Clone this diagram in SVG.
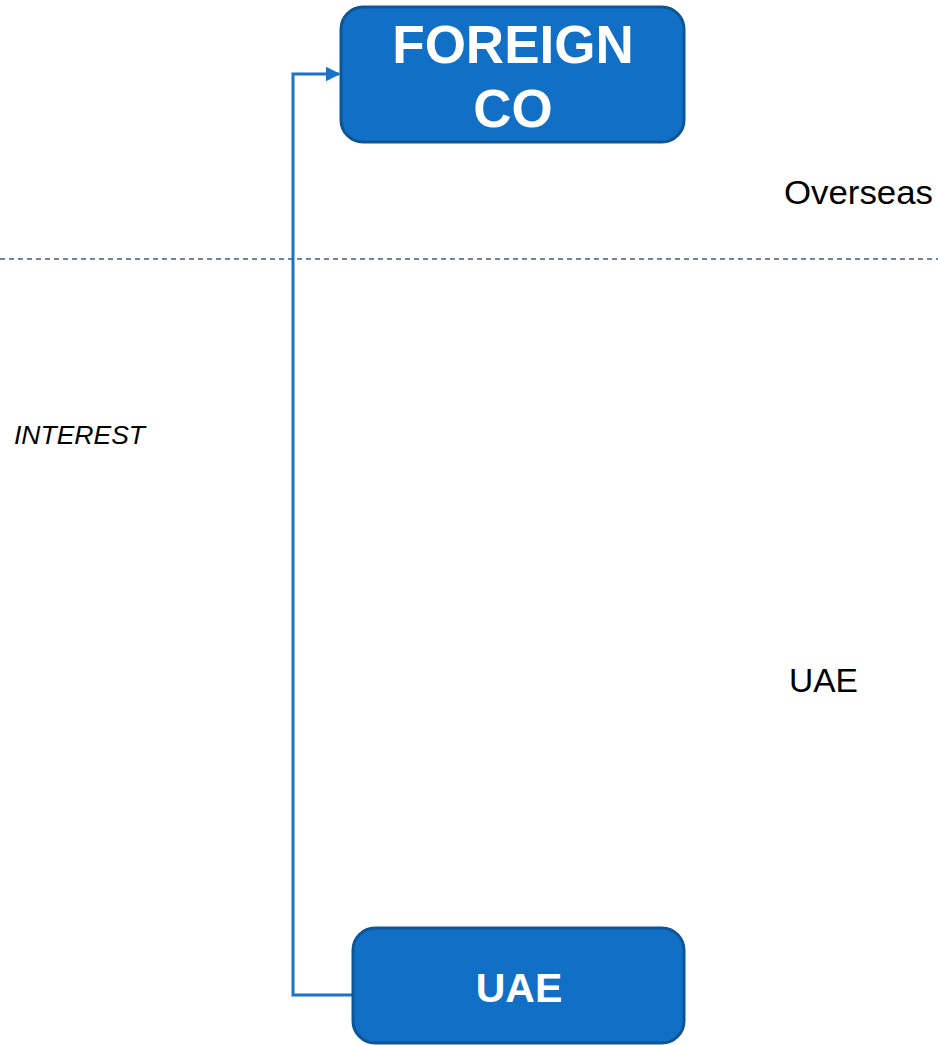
<svg xmlns="http://www.w3.org/2000/svg" width="938" height="1045" viewBox="0 0 938 1045">
  <style>
    .box { fill: #1170c6; stroke: #0e5596; stroke-width: 3; }
    .boxlabel { fill: #ffffff; font-family: "Liberation Sans", Arial, sans-serif; font-weight: bold; text-anchor: middle; }
    .zone { fill: #000000; font-family: "Liberation Sans", Arial, sans-serif; font-size: 33px; }
    .flow { fill: none; stroke: #1a73c8; stroke-width: 3; }
  </style>
  <defs>
    <marker id="arrow" viewBox="0 0 10 10" refX="9" refY="5" markerWidth="5" markerHeight="5" markerUnits="strokeWidth" orient="auto">
      <path d="M0,0 L10,5 L0,10 z" fill="#1a73c8"/>
    </marker>
  </defs>
  <rect width="938" height="1045" fill="#ffffff"/>

  <!-- border between jurisdictions -->
  <line x1="0" y1="259" x2="938" y2="259" stroke="#3f5f86" stroke-width="1.3" stroke-dasharray="5,4"/>

  <text class="zone" x="784" y="204" textLength="149" lengthAdjust="spacingAndGlyphs">Overseas</text>
  <text class="zone" x="789" y="692" textLength="69" lengthAdjust="spacingAndGlyphs">UAE</text>
  <text x="14" y="444" font-family="Liberation Sans, Arial, sans-serif" font-size="25" font-style="italic" fill="#000000" textLength="131" lengthAdjust="spacingAndGlyphs">INTEREST</text>

  <g id="connectors">
    <path class="flow" d="M352,995 L293,995 L293,74 L339,74" marker-end="url(#arrow)"/>
  </g>

  <g id="foreign-co">
    <rect class="box" x="341" y="7" width="343" height="135" rx="22"/>
    <text class="boxlabel" x="513" y="63" font-size="53">FOREIGN</text>
    <text class="boxlabel" x="513" y="127" font-size="53">CO</text>
  </g>

  <g id="uae">
    <rect class="box" x="353" y="928" width="331" height="115" rx="22"/>
    <text class="boxlabel" x="519" y="1002" font-size="41">UAE</text>
  </g>
</svg>
